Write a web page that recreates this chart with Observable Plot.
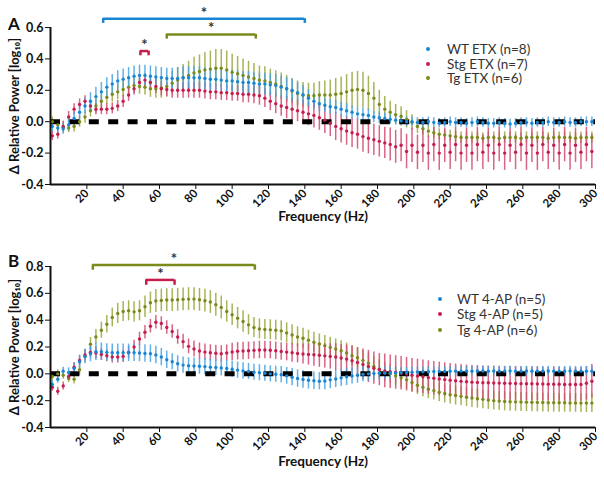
<!DOCTYPE html>
<html><head><meta charset="utf-8">
<script src="https://cdn.jsdelivr.net/npm/d3@7"></script>
<script src="https://cdn.jsdelivr.net/npm/@observablehq/plot@0.6"></script>
<style>
body{margin:0;background:#fff;font-family:Lato,"Open Sans",sans-serif;}
#wrap{position:relative;width:604px;height:481px;overflow:hidden;}
.panel{position:absolute;left:0;}
.legend{position:absolute;font-size:13.5px;color:#333;}
.legend .row{display:flex;align-items:center;white-space:nowrap;}
.legend .dot{display:inline-block;width:4px;height:4px;border-radius:50%;}
.plabel{position:absolute;font-weight:bold;font-size:17px;color:#111;line-height:1;}
</style></head>
<body><div id="wrap"></div>
<script>
// Frequency bins (Hz)
const freq = [1,4,7,10,13,16,19,22,25,28,
31,34,37,40,43,46,49,52,55,58,
61,64,67,70,73,76,79,82,85,88,
91,94,97,100,103,106,109,112,115,118,
121,124,127,130,133,136,139,142,145,148,
151,154,157,160,163,166,169,172,175,178,
181,184,187,190,193,196,199,202,205,208,
211,214,217,220,223,226,229,232,235,238,
241,244,247,250,253,256,259,262,265,268,
271,274,277,280,283,286,289,292,295,298];

// Panel A (ETX) means and SEM
const wtA = [-0.03,-0.04,-0.045,-0.02,0.02,0.06,0.10,0.13,0.16,0.19,
0.22,0.24,0.26,0.27,0.28,0.29,0.295,0.295,0.29,0.285,
0.28,0.275,0.275,0.275,0.28,0.28,0.28,0.28,0.275,0.27,
0.27,0.265,0.26,0.26,0.255,0.25,0.25,0.245,0.24,0.24,
0.235,0.23,0.22,0.21,0.20,0.185,0.17,0.15,0.13,0.115,
0.105,0.095,0.09,0.08,0.07,0.06,0.05,0.045,0.04,0.03,
0.025,0.02,0.015,0.01,0.005,0.0,0.0,-0.005,-0.005,0.0,
-0.005,-0.01,-0.005,0.0,-0.005,-0.005,-0.01,-0.005,0.0,-0.005,
-0.01,-0.01,-0.005,-0.01,-0.015,-0.01,-0.005,-0.005,-0.01,-0.005,
-0.005,0.0,-0.005,-0.005,0.0,-0.005,-0.005,0.0,0.0,0.0];
const wtASem = [0.035,0.035,0.035,0.04,0.04,0.045,0.05,0.055,0.06,0.06,
0.06,0.06,0.065,0.065,0.065,0.065,0.065,0.065,0.065,0.065,
0.065,0.065,0.065,0.07,0.07,0.07,0.07,0.07,0.07,0.07,
0.07,0.07,0.07,0.07,0.07,0.07,0.07,0.07,0.07,0.07,
0.07,0.07,0.07,0.07,0.07,0.065,0.06,0.055,0.05,0.05,
0.045,0.045,0.045,0.045,0.045,0.04,0.04,0.04,0.04,0.035,
0.035,0.035,0.03,0.03,0.03,0.03,0.03,0.03,0.03,0.03,
0.03,0.03,0.03,0.03,0.03,0.03,0.03,0.03,0.03,0.03,
0.03,0.03,0.03,0.03,0.03,0.03,0.03,0.03,0.03,0.03,
0.03,0.03,0.03,0.03,0.03,0.03,0.03,0.03,0.03,0.03];
const stgA = [-0.09,-0.08,-0.03,0.03,0.08,0.11,0.13,0.10,0.08,0.08,
0.08,0.085,0.10,0.13,0.17,0.21,0.25,0.265,0.25,0.225,
0.21,0.205,0.20,0.20,0.20,0.20,0.20,0.20,0.195,0.19,
0.19,0.185,0.185,0.18,0.18,0.175,0.175,0.17,0.165,0.15,
0.13,0.115,0.10,0.09,0.08,0.07,0.06,0.05,0.04,0.025,
0.01,-0.01,-0.03,-0.045,-0.06,-0.07,-0.08,-0.095,-0.105,-0.115,
-0.125,-0.135,-0.145,-0.16,-0.15,-0.19,-0.15,-0.195,-0.15,-0.2,
-0.145,-0.2,-0.15,-0.195,-0.145,-0.2,-0.15,-0.2,-0.145,-0.195,
-0.15,-0.2,-0.145,-0.2,-0.15,-0.195,-0.145,-0.2,-0.15,-0.2,
-0.145,-0.195,-0.15,-0.2,-0.145,-0.2,-0.15,-0.195,-0.145,-0.19];
const stgASem = [0.03,0.03,0.035,0.035,0.035,0.035,0.035,0.035,0.035,0.035,
0.035,0.035,0.035,0.04,0.04,0.04,0.04,0.04,0.04,0.045,
0.045,0.045,0.05,0.05,0.05,0.05,0.05,0.05,0.05,0.05,
0.05,0.05,0.05,0.05,0.05,0.055,0.055,0.055,0.06,0.06,
0.06,0.065,0.065,0.07,0.07,0.07,0.075,0.075,0.08,0.08,
0.085,0.085,0.09,0.09,0.09,0.095,0.095,0.1,0.1,0.1,
0.1,0.1,0.105,0.105,0.105,0.11,0.11,0.11,0.11,0.11,
0.11,0.11,0.11,0.11,0.11,0.11,0.11,0.11,0.11,0.11,
0.11,0.11,0.11,0.11,0.11,0.11,0.11,0.11,0.11,0.11,
0.11,0.11,0.11,0.11,0.11,0.11,0.11,0.11,0.11,0.11];
const tgA = [0.0,-0.02,-0.035,-0.04,-0.03,0.0,0.03,0.07,0.10,0.13,
0.155,0.175,0.19,0.205,0.22,0.23,0.225,0.22,0.21,0.21,
0.215,0.225,0.245,0.265,0.28,0.295,0.31,0.32,0.33,0.335,
0.34,0.34,0.33,0.315,0.305,0.295,0.285,0.275,0.265,0.26,
0.25,0.24,0.225,0.21,0.195,0.18,0.17,0.165,0.165,0.17,
0.17,0.17,0.175,0.18,0.19,0.2,0.205,0.2,0.18,0.15,
0.11,0.08,0.06,0.045,0.035,0.015,-0.005,-0.03,-0.045,-0.06,
-0.07,-0.08,-0.085,-0.09,-0.095,-0.1,-0.1,-0.1,-0.1,-0.105,
-0.1,-0.1,-0.105,-0.1,-0.1,-0.1,-0.105,-0.1,-0.1,-0.1,
-0.1,-0.105,-0.1,-0.1,-0.1,-0.1,-0.105,-0.1,-0.1,-0.1];
const tgASem = [0.03,0.03,0.03,0.03,0.035,0.035,0.04,0.04,0.045,0.045,
0.045,0.05,0.05,0.05,0.05,0.05,0.05,0.05,0.055,0.06,
0.065,0.07,0.075,0.08,0.085,0.09,0.1,0.105,0.11,0.115,
0.12,0.12,0.12,0.115,0.11,0.105,0.1,0.095,0.09,0.09,
0.085,0.085,0.085,0.085,0.08,0.08,0.08,0.08,0.08,0.085,
0.09,0.095,0.1,0.105,0.11,0.115,0.115,0.115,0.11,0.1,
0.09,0.08,0.07,0.065,0.06,0.055,0.05,0.045,0.04,0.04,
0.035,0.035,0.035,0.035,0.035,0.035,0.035,0.035,0.035,0.035,
0.035,0.035,0.035,0.035,0.035,0.035,0.035,0.035,0.035,0.035,
0.035,0.035,0.035,0.035,0.035,0.035,0.035,0.035,0.035,0.035];

// Panel B (4-AP) means and SEM
const wtB = [-0.08,-0.04,0.02,0.01,0.04,0.09,0.13,0.15,0.165,0.165,
0.16,0.157,0.157,0.157,0.157,0.157,0.155,0.152,0.15,0.14,
0.125,0.105,0.09,0.075,0.065,0.06,0.058,0.057,0.054,0.05,
0.047,0.044,0.04,0.034,0.028,0.022,0.017,0.012,0.008,0.004,
0.0,-0.003,-0.006,-0.015,-0.025,-0.035,-0.042,-0.048,-0.052,-0.055,
-0.053,-0.045,-0.038,-0.03,-0.022,-0.016,-0.01,-0.004,0.0,0.002,
0.004,0.005,0.006,0.007,0.008,0.01,0.012,0.014,0.015,0.016,
0.017,0.018,0.018,0.019,0.02,0.02,0.02,0.02,0.021,0.021,
0.02,0.021,0.02,0.02,0.021,0.02,0.02,0.021,0.02,0.02,
0.02,0.021,0.02,0.02,0.02,0.021,0.02,0.02,0.02,0.02];
const wtBSem = [0.03,0.03,0.03,0.035,0.04,0.05,0.055,0.06,0.065,0.065,
0.065,0.065,0.065,0.065,0.065,0.065,0.065,0.065,0.065,0.065,
0.065,0.065,0.06,0.06,0.06,0.06,0.06,0.06,0.06,0.06,
0.06,0.06,0.06,0.06,0.06,0.06,0.06,0.06,0.06,0.06,
0.06,0.06,0.06,0.062,0.064,0.065,0.065,0.065,0.065,0.065,
0.065,0.065,0.065,0.065,0.065,0.06,0.06,0.055,0.055,0.05,
0.05,0.045,0.045,0.04,0.04,0.035,0.035,0.035,0.035,0.035,
0.035,0.035,0.035,0.035,0.035,0.035,0.035,0.035,0.035,0.035,
0.035,0.035,0.035,0.035,0.035,0.035,0.035,0.035,0.035,0.035,
0.035,0.035,0.035,0.035,0.035,0.035,0.035,0.035,0.035,0.035];
const stgB = [-0.1,-0.13,-0.09,-0.02,0.05,0.1,0.14,0.16,0.155,0.145,
0.135,0.125,0.125,0.13,0.16,0.2,0.26,0.31,0.355,0.385,
0.375,0.345,0.315,0.275,0.24,0.205,0.185,0.17,0.162,0.157,
0.153,0.15,0.155,0.163,0.168,0.17,0.172,0.175,0.178,0.178,
0.176,0.172,0.167,0.162,0.157,0.152,0.148,0.145,0.142,0.138,
0.134,0.13,0.125,0.118,0.11,0.098,0.085,0.07,0.055,0.042,
0.032,0.022,0.015,0.01,0.005,-0.002,-0.01,-0.016,-0.022,-0.028,
-0.033,-0.038,-0.043,-0.048,-0.052,-0.056,-0.059,-0.062,-0.064,-0.066,
-0.067,-0.068,-0.069,-0.07,-0.071,-0.072,-0.073,-0.074,-0.074,-0.075,
-0.076,-0.077,-0.078,-0.078,-0.079,-0.08,-0.08,-0.08,-0.07,-0.055];
const stgBSem = [0.03,0.03,0.03,0.03,0.035,0.035,0.04,0.04,0.045,0.045,
0.045,0.045,0.045,0.045,0.045,0.05,0.05,0.05,0.05,0.05,
0.05,0.05,0.05,0.055,0.055,0.055,0.06,0.06,0.06,0.06,
0.06,0.06,0.06,0.065,0.065,0.065,0.065,0.065,0.065,0.065,
0.065,0.065,0.065,0.065,0.07,0.07,0.075,0.08,0.085,0.09,
0.09,0.095,0.1,0.1,0.105,0.11,0.11,0.115,0.12,0.12,
0.12,0.125,0.125,0.125,0.125,0.125,0.125,0.125,0.125,0.125,
0.125,0.125,0.125,0.125,0.125,0.125,0.125,0.125,0.125,0.125,
0.125,0.125,0.125,0.125,0.125,0.125,0.125,0.125,0.125,0.125,
0.125,0.125,0.125,0.125,0.125,0.125,0.125,0.125,0.125,0.125];
const tgB = [-0.02,0.0,-0.01,-0.035,-0.04,0.03,0.13,0.22,0.275,0.325,
0.37,0.42,0.45,0.465,0.47,0.462,0.47,0.5,0.53,0.543,
0.547,0.55,0.55,0.552,0.555,0.557,0.557,0.552,0.545,0.535,
0.515,0.495,0.465,0.44,0.415,0.39,0.365,0.345,0.335,0.33,
0.328,0.325,0.32,0.305,0.29,0.275,0.265,0.25,0.235,0.222,
0.21,0.197,0.185,0.172,0.155,0.135,0.12,0.1,0.08,0.055,
0.035,0.015,0.0,-0.015,-0.03,-0.045,-0.065,-0.085,-0.1,-0.115,
-0.125,-0.137,-0.147,-0.155,-0.162,-0.168,-0.174,-0.18,-0.186,-0.19,
-0.195,-0.2,-0.203,-0.206,-0.208,-0.209,-0.21,-0.211,-0.212,-0.213,
-0.214,-0.215,-0.215,-0.216,-0.216,-0.217,-0.217,-0.218,-0.218,-0.218];
const tgBSem = [0.03,0.03,0.03,0.03,0.035,0.04,0.045,0.05,0.055,0.06,
0.065,0.07,0.075,0.075,0.075,0.075,0.075,0.08,0.08,0.085,
0.085,0.085,0.085,0.085,0.085,0.085,0.085,0.085,0.085,0.085,
0.085,0.085,0.08,0.08,0.08,0.08,0.075,0.075,0.075,0.075,
0.075,0.075,0.075,0.075,0.075,0.075,0.075,0.075,0.075,0.075,
0.075,0.075,0.075,0.075,0.075,0.075,0.075,0.075,0.075,0.075,
0.07,0.07,0.07,0.07,0.07,0.07,0.07,0.07,0.07,0.07,
0.07,0.07,0.07,0.07,0.07,0.07,0.07,0.07,0.07,0.07,
0.07,0.07,0.07,0.07,0.07,0.07,0.07,0.07,0.07,0.07,
0.07,0.07,0.07,0.07,0.07,0.07,0.07,0.07,0.07,0.07];

// Legend labels
const legendA = ["WT ETX (n=8)", "Stg ETX (n=7)", "Tg ETX (n=6)"];
const legendB = ["WT 4-AP (n=5)", "Stg 4-AP (n=5)", "Tg 4-AP (n=6)"];
const groups = ["WT", "Stg", "Tg"];

// Significance brackets (Hz range, height, group)
const sigFromA = [29, 64, 49.5];
const sigToA = [140, 113, 54];
const sigLevelA = [0.656, 0.556, 0.45];
const sigGroupA = ["WT", "Tg", "Stg"];
const sigFromB = [23.3, 52.7];
const sigToB = [112.5, 68.3];
const sigLevelB = [0.812, 0.70];
const sigGroupB = ["Tg", "Stg"];

// Tick values
const xTicks = [20,40,60,80,100,120,140,160,180,200,220,240,260,280,300];
const yTicksA = [-0.4,-0.2,0.0,0.2,0.4,0.6];
const yTicksB = [-0.4,-0.2,0.0,0.2,0.4,0.6,0.8];

const dotColor = {WT: "#1a86d3", Stg: "#c71d4d", Tg: "#7b8a1b"};
const barColor = {WT: "#47a2e2", Stg: "#d14a70", Tg: "#9aa63c"};

function buildPanel(cfg) {
  const series = [
    {g: "Tg", m: cfg.tg, s: cfg.tgSem},
    {g: "Stg", m: cfg.stg, s: cfg.stgSem},
    {g: "WT", m: cfg.wt, s: cfg.wtSem}
  ];
  const marks = [];
  for (const se of series) {
    const rows = freq.map((f, i) => ({f, m: se.m[i], s: se.s[i]}));
    marks.push(Plot.ruleX(rows, {x: "f", y1: d => d.m - d.s, y2: d => d.m + d.s,
      stroke: barColor[se.g], strokeWidth: 1.5, strokeOpacity: 0.85}));
  }
  marks.push(Plot.ruleY([0], {stroke: "#000", strokeWidth: 5, strokeDasharray: "10,9.4"}));
  for (const se of series) {
    const rows = freq.map((f, i) => ({f, m: se.m[i]}));
    marks.push(Plot.dot(rows, {x: "f", y: "m", r: 1.7, fill: dotColor[se.g], stroke: "none"}));
  }
  const sig = cfg.sigFrom.map((a, i) => ({from: a, to: cfg.sigTo[i], level: cfg.sigLevel[i], g: cfg.sigGroup[i]}));
  for (const b of sig) {
    marks.push(Plot.ruleY([b], {x1: "from", x2: "to", y: "level", stroke: dotColor[b.g], strokeWidth: 2.5}));
    marks.push(Plot.ruleX([b.from, b.to], {x: d => d, y1: b.level, y2: b.level - cfg.drop, stroke: dotColor[b.g], strokeWidth: 2.5}));
    marks.push(Plot.text([b], {x: d => (d.from + d.to) / 2, y: "level", text: () => "*", dy: -6, fontSize: 15, fontWeight: "bold", fill: "#333"}));
  }
  marks.push(Plot.ruleX([0], {stroke: "#111", strokeWidth: 2}));
  marks.push(Plot.ruleY([-0.4], {stroke: "#111", strokeWidth: 2}));
  marks.push(Plot.axisX({ticks: xTicks, tickRotate: -45, tickSize: 5, tickPadding: 2, label: null, fontSize: 11.5, fontWeight: "bold", stroke: "#111"}));
  marks.push(Plot.axisY({ticks: cfg.yTicks, tickFormat: d => d.toFixed(1), tickSize: 5, tickPadding: 2, label: null, fontSize: 12.5, fontWeight: "bold", stroke: "#111"}));
  marks.push(Plot.text(["Frequency (Hz)"], {frameAnchor: "bottom", dy: cfg.xLabelDy, fontSize: 13.5, fontWeight: "bold", fill: "#111"}));
  marks.push(Plot.text(["Δ Relative Power [log₁₀]"], {frameAnchor: "left", textAnchor: "middle", rotate: -90, dx: -36, fontSize: 13, fontWeight: "bold", fill: "#111"}));
  return Plot.plot({
    width: 604, height: cfg.height,
    marginLeft: 50, marginRight: 9, marginTop: cfg.marginTop, marginBottom: cfg.marginBottom,
    x: {domain: [0, 300]},
    y: {domain: cfg.yDomain},
    style: {fontFamily: "Lato, 'Open Sans', sans-serif", color: "#111", background: "transparent", overflow: "visible"},
    marks
  });
}

const wrap = document.getElementById("wrap");

function addPanel(svg, top) {
  svg.classList.add("panel");
  svg.style.top = top + "px";
  wrap.appendChild(svg);
}
function addLegend(labels, left, top, rowH, gap) {
  const div = document.createElement("div");
  div.className = "legend";
  div.style.left = left + "px";
  div.style.top = top + "px";
  labels.forEach((lab, i) => {
    const row = document.createElement("div");
    row.className = "row";
    row.style.height = rowH + "px";
    const dot = document.createElement("span");
    dot.className = "dot";
    dot.style.background = dotColor[groups[i]];
    dot.style.marginRight = gap + "px";
    row.appendChild(dot);
    row.appendChild(document.createTextNode(lab));
    div.appendChild(row);
  });
  wrap.appendChild(div);
}
function addLabel(t, left, top) {
  const d = document.createElement("div");
  d.className = "plabel"; d.textContent = t;
  d.style.left = left + "px"; d.style.top = top + "px";
  wrap.appendChild(d);
}

addPanel(buildPanel({wt: wtA, wtSem: wtASem, stg: stgA, stgSem: stgASem, tg: tgA, tgSem: tgASem,
  yDomain: [-0.4, 0.6], yTicks: yTicksA, height: 230, marginTop: 27, marginBottom: 46, drop: 0.03,
  sigFrom: sigFromA, sigTo: sigToA, sigLevel: sigLevelA, sigGroup: sigGroupA, xLabelDy: 36}), 0);
addPanel(buildPanel({wt: wtB, wtSem: wtBSem, stg: stgB, stgSem: stgBSem, tg: tgB, tgSem: tgBSem,
  yDomain: [-0.4, 0.8], yTicks: yTicksB, height: 251, marginTop: 36, marginBottom: 54, drop: 0.04,
  sigFrom: sigFromB, sigTo: sigToB, sigLevel: sigLevelB, sigGroup: sigGroupB, xLabelDy: 38}), 230);

addLegend(legendA, 426, 42, 14.5, 17);
addLegend(legendB, 438, 291, 15.5, 15);
addLabel("A", 8, 15);
addLabel("B", 8, 252);
</script></body></html>
